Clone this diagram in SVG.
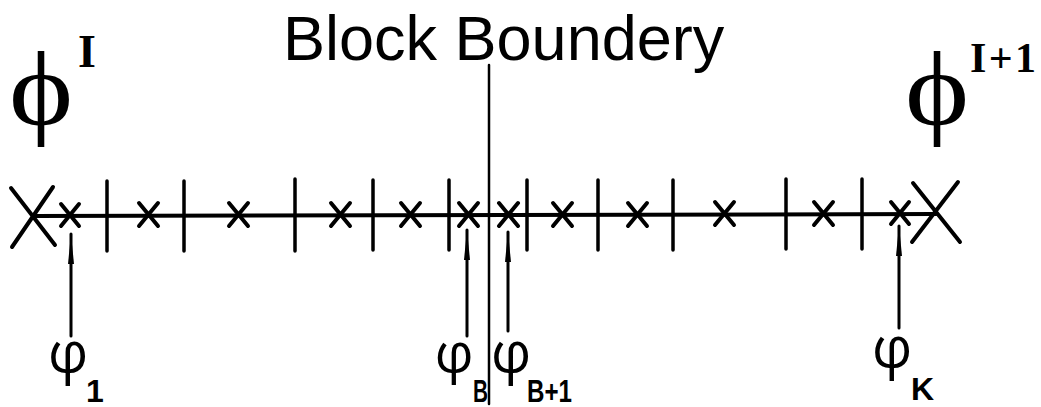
<svg xmlns="http://www.w3.org/2000/svg" width="1041" height="407" viewBox="0 0 1041 407">
<style>
.ln{stroke:#000;fill:none;stroke-linecap:round}
.main{stroke-width:4}
.tick{stroke-width:3.5}
.big{stroke-width:4}
.sx{stroke-width:4}
.arr{stroke-width:3}
.t{font-family:"Liberation Sans",Arial,sans-serif;fill:#000}
.phi{font-family:"Liberation Serif",serif;fill:#000}
.lphi{font-family:"Open Sans",sans-serif;fill:#000}
.sup{font-family:"Liberation Serif",serif;fill:#000;font-weight:bold}
.sub{font-family:"Liberation Sans",Arial,sans-serif;font-weight:bold;fill:#000}
</style>
<defs>
<marker id="ah" viewBox="0 0 30 8" refX="30" refY="4" markerWidth="30" markerHeight="8" orient="auto" markerUnits="userSpaceOnUse">
<path d="M0,1 L30,4 L0,7 z" fill="#000"/>
</marker>
</defs>
<rect width="1041" height="407" fill="#fff"/>

<g id="title"><text class="t" x="283" y="60" font-size="63">Block Boundery</text></g>
<g id="boundary"><line class="ln" x1="489" y1="65" x2="489" y2="404" stroke-width="2.5"/></g>

<g id="phiI">
<text class="phi" x="0" y="0" font-size="106" text-anchor="middle" transform="translate(41,124) scale(1.15,1)">ϕ</text>
<text class="sup" x="78" y="67" font-size="46">I</text>
</g>
<g id="phiI1">
<text class="phi" x="0" y="0" font-size="106" text-anchor="middle" transform="translate(937,124) scale(1.15,1)">ϕ</text>
<text class="sup" x="970" y="72" font-size="42" textLength="66" lengthAdjust="spacing">I+1</text>
</g>

<g id="grid">
<line class="ln main" x1="33" y1="216" x2="936" y2="214"/>
<path class="ln big" d="M11,188 L55,245 M53,187 L12,247"/>
<path class="ln big" d="M913,183 L960,242 M958,182 L912,242"/>
<path class="ln tick" d="M107,181V251 M184,181V251 M295,179V251 M373,180V250 M449,180V250 M527,180V250 M598,180V250 M673,180V250 M786,179V249 M862,179V249"/>
<g class="ln sx">
<path d="M61,204l18,22M79,204l-18,22"/>
<path d="M139,203l19,23M158,203l-19,23"/>
<path d="M229,203l19,23M248,203l-19,23"/>
<path d="M331,203l19,23M350,203l-19,23"/>
<path d="M401,203l19,23M420,203l-19,23"/>
<path d="M459,203l19,23M478,203l-19,23"/>
<path d="M499,203l19,23M518,203l-19,23"/>
<path d="M553,203l19,23M572,203l-19,23"/>
<path d="M628,203l19,23M647,203l-19,23"/>
<path d="M715,202l19,23M734,202l-19,23"/>
<path d="M814,202l19,23M833,202l-19,23"/>
<path d="M891,202l18,22M909,202l-18,22"/>
</g>
</g>

<g id="connectors">
<line class="ln arr" x1="71" y1="336" x2="71" y2="234" marker-end="url(#ah)"/>
<line class="ln arr" x1="467" y1="336" x2="467" y2="230" marker-end="url(#ah)"/>
<line class="ln arr" x1="508" y1="331" x2="508" y2="232" marker-end="url(#ah)"/>
<line class="ln arr" x1="899" y1="328" x2="899" y2="226" marker-end="url(#ah)"/>
</g>

<g id="phi1">
<text class="lphi" x="68" y="372" font-size="56" text-anchor="middle">φ</text>
<text class="sub" x="86" y="402" font-size="32">1</text>
</g>
<g id="phiB">
<text class="lphi" x="454" y="372" font-size="54" text-anchor="middle">φ</text>
<text class="sub" x="473" y="402" font-size="32" textLength="15" lengthAdjust="spacingAndGlyphs">B</text>
</g>
<g id="phiB1">
<text class="lphi" x="511" y="372" font-size="56" text-anchor="middle">φ</text>
<text class="sub" x="527" y="402" font-size="32" textLength="45" lengthAdjust="spacingAndGlyphs">B+1</text>
</g>
<g id="phiK">
<text class="lphi" x="892" y="367" font-size="56" text-anchor="middle">φ</text>
<text class="sub" x="911" y="400" font-size="32">K</text>
</g>
</svg>
